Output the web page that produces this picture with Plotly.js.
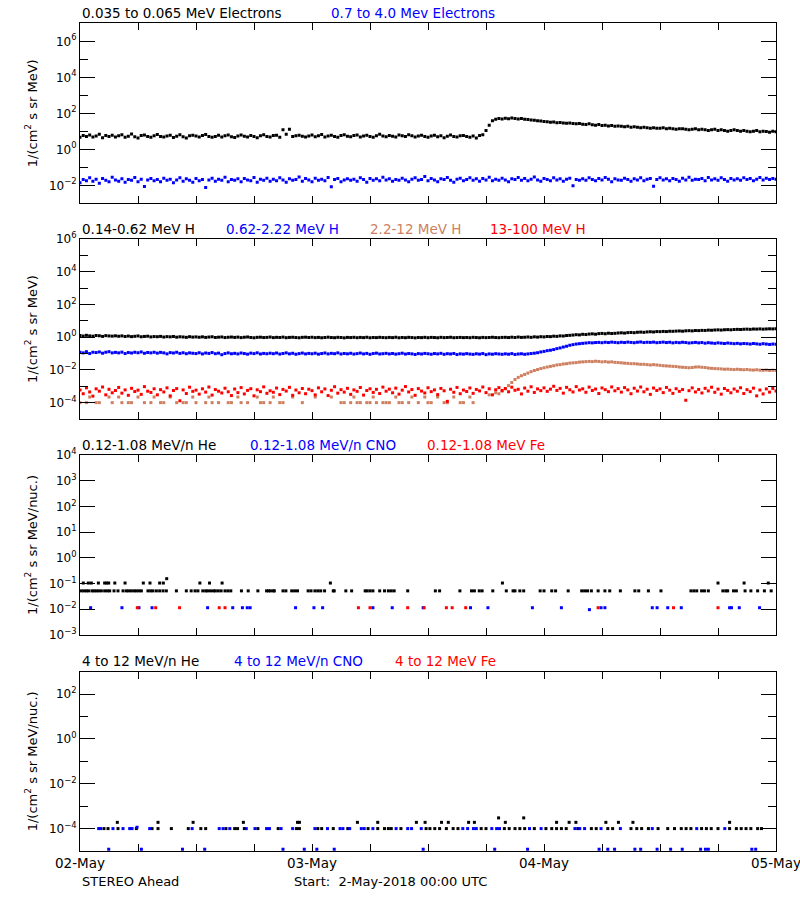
<!DOCTYPE html>
<html><head><meta charset="utf-8">
<script src="https://cdn.plot.ly/plotly-3.0.1.min.js"></script>
<style>html,body{margin:0;padding:0;background:#fff}#chart{width:800px;height:900px}</style>
</head><body><div id="chart"></div>
<script>
// ---------------- data ----------------
// 20-minute averages starting 2-May-2018 00:00 UTC, x in hours since start
const STEP_HOURS = 1/3;
const dayTickHours = [0, 24, 48, 72];
const dayTickLabels = ['02-May', '03-May', '04-May', '05-May'];
const sixHourTickHours = [6, 12, 18, 30, 36, 42, 54, 60, 66];

// Panel 1: electrons
const e035_065 = [
4.6,5.8,5.1,6.3,4.9,5.5,6.8,4.4,5.9,5.2,6.1,4.8,
5.6,6.4,4.7,5.3,7.0,5.0,4.3,5.8,6.2,5.1,4.6,5.7,
6.6,5.2,4.9,5.5,6.0,4.5,5.3,6.5,5.0,4.2,5.6,6.1,
5.4,4.8,5.9,6.7,5.1,4.6,5.2,6.0,4.9,5.7,6.3,5.0,
4.5,5.5,6.2,5.3,4.8,5.9,5.1,4.4,5.6,6.4,5.2,4.9,
5.8,6.1,4.7,12,6.9,13,5.2,5.6,6.0,5.3,4.9,5.5,
6.2,5.0,5.7,6.6,4.8,5.4,6.0,5.1,4.6,5.9,6.5,5.3,
5.0,5.8,6.3,4.9,5.5,6.1,5.2,4.7,5.6,6.8,5.4,5.0,
5.9,5.3,4.8,6.2,5.6,5.1,6.4,5.7,4.9,5.5,6.0,5.2,
4.6,5.4,6.1,5.0,5.7,4.4,5.3,6.3,5.1,4.8,5.6,5.9,
5.2,4.7,5.5,4.3,5.8,6.4,11,22,38,46,51,49,
53,50,55,52,49,51,47,45,43,41,38,37,
35,34,32,33,30,31,29,28,29,27,26,27,
25,24,26,23,22,24,21,22,20,21,19,20,
19,18,19,17,18,17,16,17,16,15,16,15,
15,16,14,15,14,13,14,14,13,12,13,14,
12,13,12,11,12,13,11,12,11,10,11,12,
11,10,11,10,9.5,10,11,9.3,10,9.6,8.8,10,
9.5];
const e07_40 = [
0.014,0.021,0.018,0.026,0.017,0.022,0.013,0.024,0.019,0.016,0.028,0.02,
0.017,0.023,0.015,0.021,0.019,0.027,0.016,0.022,0.0085,0.02,0.024,0.018,
0.021,0.016,0.025,0.019,0.022,0.014,0.02,0.026,0.017,0.023,0.019,0.015,
0.024,0.018,0.021,0.0075,0.02,0.025,0.017,0.022,0.019,0.028,0.016,0.021,
0.019,0.023,0.016,0.024,0.02,0.018,0.027,0.015,0.022,0.019,0.025,0.017,
0.022,0.018,0.026,0.02,0.015,0.023,0.019,0.021,0.029,0.017,0.024,0.02,
0.016,0.025,0.019,0.022,0.018,0.027,0.0082,0.021,0.024,0.016,0.02,0.023,
0.019,0.022,0.017,0.026,0.021,0.015,0.024,0.019,0.023,0.018,0.028,0.02,
0.023,0.017,0.021,0.019,0.025,0.02,0.016,0.022,0.026,0.019,0.021,0.031,
0.018,0.024,0.02,0.016,0.023,0.021,0.027,0.019,0.015,0.022,0.025,0.018,
0.021,0.026,0.019,0.023,0.017,0.024,0.02,0.028,0.018,0.022,0.019,0.025,
0.02,0.016,0.023,0.021,0.027,0.019,0.024,0.018,0.022,0.029,0.02,0.017,
0.024,0.021,0.018,0.026,0.02,0.023,0.017,0.022,0.025,0.0095,0.021,0.019,
0.023,0.019,0.026,0.021,0.018,0.024,0.02,0.027,0.022,0.016,0.023,0.02,
0.019,0.025,0.021,0.017,0.023,0.02,0.026,0.018,0.022,0.024,0.0088,0.021,
0.026,0.02,0.023,0.018,0.024,0.021,0.017,0.025,0.02,0.028,0.019,0.022,
0.021,0.024,0.018,0.027,0.02,0.023,0.019,0.026,0.021,0.017,0.024,0.02,
0.023,0.019,0.026,0.021,0.024,0.018,0.022,0.027,0.02,0.025,0.021,0.024,
0.022];

// Panel 2: protons
const h014_062 = [
1.25,1.18,1.3,1.2,1.15,1.27,1.22,1.12,1.24,1.19,1.16,1.21,
1.14,1.2,1.1,1.17,1.08,1.13,1.19,1.06,1.11,1.15,1.04,1.09,
1.07,1.12,1.02,1.08,1.05,1.1,1.0,1.06,1.03,0.98,1.07,1.01,
1.04,0.99,1.05,0.97,1.02,1.06,0.96,1.0,1.03,0.95,0.99,1.02,
0.97,1.01,0.94,0.99,1.03,0.96,0.92,0.98,1.0,0.95,0.97,1.02,
0.94,0.98,0.96,1.01,0.93,0.97,0.99,0.95,0.92,0.98,1.0,0.96,
0.99,0.94,0.97,0.92,0.96,1.0,0.95,0.93,0.98,0.96,0.91,0.97,
0.95,0.98,0.93,0.97,0.94,0.99,0.92,0.96,0.94,0.98,0.95,0.93,
0.97,0.94,0.99,0.92,0.96,0.93,0.98,0.95,0.91,0.96,0.94,0.98,
0.93,0.97,0.95,0.92,0.98,0.94,0.96,0.99,0.93,0.95,0.97,0.94,
0.96,0.93,0.98,0.95,0.92,0.97,0.94,0.96,0.99,0.95,0.93,0.97,
0.98,0.95,1.0,0.96,1.02,0.97,0.99,1.03,0.98,1.05,1.01,1.07,
1.04,1.1,1.08,1.15,1.12,1.2,1.18,1.26,1.3,1.35,1.42,1.38,
1.5,1.45,1.55,1.6,1.52,1.65,1.7,1.62,1.75,1.68,1.72,1.8,
1.85,1.78,1.9,1.95,1.88,2.0,2.05,1.98,2.1,2.15,2.08,2.2,
2.18,2.25,2.2,2.3,2.28,2.35,2.4,2.32,2.45,2.5,2.42,2.55,
2.52,2.6,2.58,2.7,2.65,2.75,2.8,2.72,2.85,2.9,2.82,2.95,
3.0,2.95,3.05,3.1,3.02,3.15,3.12,3.2,3.1,3.18,3.25,3.2,
3.22];
const h062_222 = [
0.12,0.11,0.13,0.1,0.12,0.115,0.125,0.105,0.12,0.13,0.11,0.118,
0.11,0.122,0.1,0.115,0.108,0.12,0.112,0.125,0.104,0.116,0.11,0.12,
0.106,0.118,0.11,0.096,0.114,0.108,0.12,0.102,0.112,0.098,0.11,0.104,
0.1,0.112,0.095,0.108,0.102,0.115,0.098,0.106,0.085,0.1,0.11,0.097,
0.103,0.095,0.108,0.1,0.092,0.106,0.099,0.111,0.094,0.102,0.097,0.105,
0.098,0.108,0.093,0.101,0.11,0.096,0.104,0.091,0.099,0.107,0.095,0.102,
0.097,0.105,0.092,0.1,0.108,0.095,0.103,0.098,0.11,0.094,0.101,0.096,
0.104,0.093,0.099,0.107,0.095,0.102,0.09,0.1,0.106,0.094,0.098,0.103,
0.095,0.101,0.092,0.098,0.105,0.093,0.1,0.096,0.088,0.099,0.094,0.102,
0.097,0.091,0.1,0.095,0.103,0.09,0.098,0.094,0.101,0.087,0.096,0.092,
0.099,0.093,0.089,0.097,0.092,0.1,0.086,0.095,0.091,0.098,0.094,0.09,
0.096,0.091,0.099,0.088,0.094,0.097,0.09,0.095,0.1,0.105,0.112,0.125,
0.135,0.15,0.16,0.175,0.2,0.22,0.25,0.28,0.32,0.35,0.38,0.4,
0.42,0.44,0.46,0.45,0.47,0.48,0.46,0.49,0.47,0.5,0.48,0.46,
0.49,0.47,0.5,0.48,0.46,0.49,0.51,0.47,0.49,0.48,0.5,0.46,
0.48,0.5,0.47,0.49,0.45,0.48,0.46,0.49,0.47,0.44,0.46,0.48,
0.45,0.47,0.43,0.46,0.44,0.42,0.45,0.43,0.41,0.44,0.42,0.4,
0.42,0.39,0.41,0.4,0.38,0.41,0.39,0.37,0.4,0.38,0.36,0.38,
0.37];
const h22_12 = [
1e-4,null,1e-4,2.2e-4,null,1e-4,1e-4,null,null,2.2e-4,1e-4,null,
2.2e-4,1e-4,null,1e-4,1e-4,null,2.2e-4,null,1e-4,null,1e-4,2.2e-4,
null,1e-4,1e-4,null,2.2e-4,null,1e-4,null,1e-4,1e-4,null,2.2e-4,
1e-4,null,null,1e-4,2.2e-4,1e-4,null,1e-4,null,null,1e-4,1e-4,
null,2.2e-4,1e-4,null,1e-4,null,null,2.2e-4,1e-4,1e-4,null,1e-4,
2.2e-4,null,1e-4,1e-4,null,null,2.2e-4,null,null,1e-4,null,null,
null,2.2e-4,null,null,null,null,2.2e-4,null,null,1e-4,1e-4,null,
1e-4,2.2e-4,1e-4,1e-4,null,1e-4,1e-4,2.2e-4,1e-4,null,1e-4,1e-4,
1e-4,null,2.2e-4,1e-4,1e-4,null,1e-4,2.2e-4,null,1e-4,null,2.2e-4,
1e-4,1e-4,null,2.2e-4,null,1e-4,1e-4,null,2.2e-4,null,1e-4,1e-4,
null,2.2e-4,1e-4,null,null,null,null,3e-4,null,4e-4,3.5e-4,5e-4,
7e-4,1.1e-3,1.7e-3,2.6e-3,3.5e-3,4.4e-3,5.3e-3,6.4e-3,7.8e-3,9.2e-3,0.0105,0.012,
0.0135,0.015,0.0165,0.018,0.02,0.021,0.023,0.024,0.026,0.027,0.028,0.03,
0.031,0.032,0.033,0.032,0.034,0.033,0.031,0.032,0.03,0.031,0.029,0.028,
0.027,0.026,0.025,0.024,0.024,0.023,0.022,0.022,0.021,0.02,0.021,0.02,
0.019,0.018,0.0175,0.017,0.0165,0.016,0.015,0.0145,0.014,0.0135,0.014,0.015,
0.0152,0.0145,0.014,0.013,0.0125,0.012,0.0118,0.0115,0.011,0.0112,0.0108,0.0105,
0.011,0.0105,0.0102,0.0106,0.01,0.0098,0.0102,0.0097,0.0095,0.0098,0.0093,0.0096,
0.0093];
const h13_100 = [
6e-4,3.5e-4,8e-4,4.5e-4,2.5e-4,7e-4,5e-4,9e-4,3e-4,6.5e-4,4e-4,5.5e-4,
8.5e-4,3.8e-4,6e-4,2.8e-4,7.5e-4,4.8e-4,5.8e-4,3.2e-4,9.5e-4,5e-4,4.2e-4,7e-4,
3e-4,6.2e-4,4.5e-4,8e-4,2.6e-4,5.5e-4,7.2e-4,1.3e-4,6e-4,3.6e-4,8.8e-4,4.9e-4,
5.8e-4,3.3e-4,7e-4,4.4e-4,9e-4,2.9e-4,6.3e-4,5e-4,3.9e-4,7.6e-4,4.6e-4,2.7e-4,
6.8e-4,4.1e-4,8.3e-4,3.4e-4,5.6e-4,7.1e-4,2.6e-4,6.1e-4,4.7e-4,9.2e-4,3.7e-4,5.3e-4,
4.3e-4,7.8e-4,3.1e-4,6.4e-4,5.1e-4,8.6e-4,2.8e-4,5.9e-4,4e-4,7.3e-4,3.5e-4,6.6e-4,
5.4e-4,3e-4,8e-4,4.6e-4,6.9e-4,2.7e-4,5.7e-4,9.4e-4,3.8e-4,6.2e-4,4.4e-4,7.5e-4,
3.2e-4,6e-4,4.9e-4,8.4e-4,2.9e-4,5.5e-4,7e-4,4.2e-4,6.5e-4,3.6e-4,8.9e-4,5e-4,
6.7e-4,4e-4,7.7e-4,3.3e-4,5.8e-4,9.6e-4,4.5e-4,6.3e-4,2.8e-4,7.2e-4,5.1e-4,3.9e-4,
8.1e-4,4.7e-4,6e-4,3.1e-4,7.4e-4,5.3e-4,1.2e-4,6.6e-4,4.3e-4,8.5e-4,3.5e-4,5.9e-4,
4.8e-4,7.9e-4,3.7e-4,6.4e-4,5.2e-4,9e-4,4.1e-4,7e-4,3e-4,6.1e-4,8.2e-4,5.5e-4,
7.3e-4,4.6e-4,8.8e-4,5.7e-4,6.5e-4,3.4e-4,7.8e-4,5e-4,9.3e-4,4.2e-4,6.9e-4,5.4e-4,
8e-4,4.9e-4,6.7e-4,1e-3,5.6e-4,7.4e-4,3.8e-4,8.6e-4,6.1e-4,4.5e-4,9.5e-4,5.9e-4,
7e-4,4.3e-4,8.9e-4,5.5e-4,6.8e-4,3.6e-4,7.9e-4,6.2e-4,4.7e-4,9.1e-4,5.3e-4,7.2e-4,
4.4e-4,8.3e-4,6e-4,3.5e-4,7.6e-4,5.1e-4,9e-4,4.6e-4,6.6e-4,3.2e-4,7.8e-4,5.5e-4,
6.9e-4,4.1e-4,8.5e-4,5.8e-4,3.7e-4,7.1e-4,4.9e-4,6.3e-4,1.4e-4,5.4e-4,8e-4,4.5e-4,
6.4e-4,3.9e-4,7.5e-4,5.2e-4,8.7e-4,4.3e-4,6.7e-4,3.3e-4,7.3e-4,5.6e-4,4e-4,6.8e-4,
5e-4,8.1e-4,3.6e-4,6.2e-4,4.7e-4,7.7e-4,2.6e-4,5.9e-4,3.4e-4,6.9e-4,4.4e-4,7.4e-4,
5.2e-4];

// Panel 3: 0.12-1.08 MeV/n heavy ions (sparse, count-quantized levels)
const he012Levels = [0.052, 0.105, 0.155];
const he012Hours052 = [0.14,0.41,0.66,0.90,1.24,1.45,1.69,1.93,2.21,2.55,2.83,3.07,3.52,3.93,4.45,4.79,5.03,5.31,5.59,5.83,6.10,6.35,7.03,7.31,7.55,7.90,8.24,8.59,8.93,9.97,11.0,11.5,11.9,12.2,12.7,13.0,13.2,13.5,13.8,14.0,14.3,14.6,15.0,15.3,15.6,16.7,17.4,18.4,19.3,19.5,19.7,20.0,20.1,21.0,21.3,21.9,22.2,22.5,23.6,23.9,24.3,24.6,24.9,25.3,26.2,26.3,27.5,28.1,29.5,29.7,30.0,30.3,31.0,31.5,31.9,32.2,32.5,33.9,36.76,37.2,39.3,40.5,40.8,41.3,41.6,42.7,44.1,44.8,45.0,45.5,45.9,47.6,48.0,48.8,49.2,50.5,51.9,52.2,52.5,52.9,53.6,54.3,54.8,55.9,57.4,57.8,58.8,60.1,63.2,63.5,63.8,64.3,64.6,65.0,66.5,66.8,67.0,67.6,67.9,68.8,69.4,70.1,70.8,71.5];
const he012Hours105 = [0.34,0.86,1.17,1.9,2.55,2.76,2.97,3.6,4.66,6.55,7.24,8.24,8.62,12.4,13.4,14.7,25.9,43.7,66.0,68.7,71.2];
const he012Hours155 = [8.97];
const cno012Levels = [0.0115, 0.0097];
const cno012Hours0115 = [1.10,4.34,6.10,7.45,13.2,15.8,16.8,17.3,17.6,22.3,24.2,25.1,30.3,32.3,35.5,40.4,42.2,46.8,49.8,53.9,54.3,59.2,59.7,60.8,62.2,67.2,67.4,68.2,70.3];
const cno012Hours0097 = [52.7];
const fe012Levels = [0.0115];
const fe012Hours0115 = [5.93,7.83,10.3,14.4,15.0,28.8,30.0,33.9,35.6,37.9,38.5,39.9,53.6,61.4,66.0];

// Panel 4: 4-12 MeV/n heavy ions
const he4Levels = [1e-4, 1.9e-4, 3e-4];
const he4Hours1e4 = [2.48,2.90,3.93,5.83,7.45,8.07,9.45,11.2,12.5,13.0,15.1,16.0,16.3,17.0,18.4,20.5,22.4,22.7,24.6,25.0,26.2,27.7,29.8,30.8,31.5,31.9,32.2,33.2,35.8,36.2,36.7,37.2,37.9,38.6,39.1,41.5,42.0,43.9,44.4,45.0,45.5,46.0,47.0,48.2,48.8,49.3,49.8,50.3,51.5,52.9,53.4,54.6,55.1,57.0,57.6,58.1,58.8,59.8,60.8,61.5,62.2,62.7,63.2,64.3,64.8,65.3,66.0,67.2,67.9,68.4,68.9,69.4,70.1,70.5];
const he4Hours19e5 = [3.86,8.07,11.7,16.9,22.5,22.7,28.7,30.8,34.8,35.7,37.4,38.1,40.2,40.8,44.0,49.3,50.6,51.3,54.4,55.7,57.2,67.2];
const he4Hours3e4 = [43.3,45.9];
const cno4Levels = [1e-4, 1.15e-4, 1.2e-5];
const cno4Hours1e4 = [1.93,2.14,3.41,4.45,5.14,5.38,7.21,11.6,14.4,14.8,15.5,17.2,18.1,19.3,19.6,20.8,22.0,24.3,25.6,26.9,27.2,27.9,29.1,29.4,30.3,32.7,33.9,34.3,35.3,39.6,40.1,40.7,41.0,42.6,43.1,43.4,46.5,47.7,51.2,51.7,52.2,53.9,55.9,59.2,63.8,66.7];
const cno4Hours115e6 = [5.9];
const cno4Hours12e6 = [2.97,6.35,10.6,12.9,21.0,23.2,24.5,26.3,35.5,42.9,46.3,53.7,54.6,55.3,57.4,58.0,59.7,61.1,62.3,64.2,64.7,65.0,69.5,69.9];

// ---------------- drawing ----------------
const FONT = 'DejaVu Sans';
const BLACK = '#000000', BLUE = '#0000ff', BROWN = 'rgb(205,127,95)', RED = '#ff0000';
const W = 800, H = 900, ML = 80, MR = 24, PW = W - ML - MR;
const px2x = px => (px - ML) / PW;
const px2y = py => 1 - py / H;
const hoursFor = arr => arr.map((_, i) => i * STEP_HOURS);

function dots(x, y, color, n) {
  const s = n === 1 ? '' : String(n);
  return {x: x, y: y, type: 'scatter', mode: 'markers', xaxis: 'x' + s, yaxis: 'y' + s,
    marker: {symbol: 'square', size: 3, color: color, line: {width: 0}}, hoverinfo: 'skip'};
}
function levelDots(hours, level, color, n) { return dots(hours, hours.map(() => level), color, n); }

const traces = [
  dots(hoursFor(e035_065), e035_065, BLACK, 1),
  dots(hoursFor(e07_40), e07_40, BLUE, 1),
  dots(hoursFor(h22_12), h22_12, BROWN, 2),
  dots(hoursFor(h13_100), h13_100, RED, 2),
  dots(hoursFor(h062_222), h062_222, BLUE, 2),
  dots(hoursFor(h014_062), h014_062, BLACK, 2),
  levelDots(he012Hours052, he012Levels[0], BLACK, 3),
  levelDots(he012Hours105, he012Levels[1], BLACK, 3),
  levelDots(he012Hours155, he012Levels[2], BLACK, 3),
  levelDots(cno012Hours0115, cno012Levels[0], BLUE, 3),
  levelDots(cno012Hours0097, cno012Levels[1], BLUE, 3),
  levelDots(fe012Hours0115, fe012Levels[0], RED, 3),
  levelDots(he4Hours1e4, he4Levels[0], BLACK, 4),
  levelDots(he4Hours19e5, he4Levels[1], BLACK, 4),
  levelDots(he4Hours3e4, he4Levels[2], BLACK, 4),
  levelDots(cno4Hours1e4, cno4Levels[0], BLUE, 4),
  levelDots(cno4Hours115e6, cno4Levels[1], BLUE, 4),
  levelDots(cno4Hours12e6, cno4Levels[2], BLUE, 4)
];

const panels = [
  {top: 23.3, bottom: 203.3, range: [-3, 7],
   major: [1e-2, 1, 1e2, 1e4, 1e6], labels: ['10<sup>−2</sup>','10<sup>0</sup>','10<sup>2</sup>','10<sup>4</sup>','10<sup>6</sup>'],
   minor: [1e-1, 10, 1e3, 1e5], title: '1/(cm<sup>2</sup> s sr MeV)'},
  {top: 239, bottom: 419, range: [-5, 6],
   major: [1e-4, 1e-2, 1, 1e2, 1e4, 1e6], labels: ['10<sup>−4</sup>','10<sup>−2</sup>','10<sup>0</sup>','10<sup>2</sup>','10<sup>4</sup>','10<sup>6</sup>'],
   minor: [1e-3, 1e-1, 10, 1e3, 1e5], title: '1/(cm<sup>2</sup> s sr MeV)'},
  {top: 455, bottom: 635, range: [-3, 4],
   major: [1e-3, 1e-2, 1e-1, 1, 10, 1e2, 1e3, 1e4], labels: ['10<sup>−3</sup>','10<sup>−2</sup>','10<sup>−1</sup>','10<sup>0</sup>','10<sup>1</sup>','10<sup>2</sup>','10<sup>3</sup>','10<sup>4</sup>'],
   minor: null, title: '1/(cm<sup>2</sup> s sr MeV/nuc.)'},
  {top: 671.7, bottom: 851, range: [-5, 3],
   major: [1e-4, 1e-2, 1, 1e2], labels: ['10<sup>−4</sup>','10<sup>−2</sup>','10<sup>0</sup>','10<sup>2</sup>'],
   minor: [1e-3, 1e-1, 10], title: '1/(cm<sup>2</sup> s sr MeV/nuc.)'}
];

const layout = {
  width: W, height: H, margin: {l: ML, r: MR, t: 0, b: 0, pad: 0},
  paper_bgcolor: '#fff', plot_bgcolor: '#fff', showlegend: false, hovermode: false,
  font: {family: FONT, size: 13, color: BLACK},
  annotations: []
};

panels.forEach((p, i) => {
  const n = i + 1, s = n === 1 ? '' : String(n);
  const last = n === 4;
  layout['xaxis' + s] = {
    domain: [0, 1], anchor: 'y' + s, range: [0, 72], type: 'linear',
    tickmode: 'array', tickvals: dayTickHours, ticktext: dayTickLabels,
    showticklabels: last, ticklabeloverflow: 'allow',
    ticks: 'inside', ticklen: 7, tickwidth: 1, tickcolor: BLACK,
    minor: {tickmode: 'array', tickvals: sixHourTickHours, ticks: 'inside', ticklen: 7, tickwidth: 1, tickcolor: BLACK, showgrid: false},
    showline: true, linecolor: BLACK, linewidth: 1, mirror: 'ticks',
    showgrid: false, zeroline: false, fixedrange: true, automargin: false,
    tickfont: {family: FONT, size: 13.5, color: BLACK}
  };
  if (n > 1) layout['xaxis' + s].matches = 'x';
  const ya = {
    domain: [px2y(p.bottom), px2y(p.top)], anchor: 'x' + s, type: 'log', range: p.range,
    tickmode: 'array', tickvals: p.major, ticktext: p.labels,
    ticks: 'inside', ticklen: 15, tickwidth: 1, tickcolor: BLACK,
    showline: true, linecolor: BLACK, linewidth: 1, mirror: 'ticks',
    showgrid: false, zeroline: false, fixedrange: true, automargin: false,
    tickfont: {family: FONT, size: 12, color: BLACK},
    title: {text: p.title, font: {family: FONT, size: 13, color: BLACK}, standoff: 8}
  };
  if (p.minor) ya.minor = {tickmode: 'array', tickvals: p.minor, ticks: 'inside', ticklen: 8, tickwidth: 1, tickcolor: BLACK, showgrid: false};
  layout['yaxis' + s] = ya;
});

const panelTitles = [
  {y: 13, items: [['0.035 to 0.065 MeV Electrons', 80, BLACK], ['0.7 to 4.0 Mev Electrons', 329, BLUE]]},
  {y: 229, items: [['0.14-0.62 MeV H', 80, BLACK], ['0.62-2.22 MeV H', 224, BLUE], ['2.2-12 MeV H', 368, BROWN], ['13-100 MeV H', 488, RED]]},
  {y: 445, items: [['0.12-1.08 MeV/n He', 80, BLACK], ['0.12-1.08 MeV/n CNO', 248, BLUE], ['0.12-1.08 MeV Fe', 425, RED]]},
  {y: 661, items: [['4 to 12 MeV/n He', 80, BLACK], ['4 to 12 MeV/n CNO', 232, BLUE], ['4 to 12 MeV Fe', 393, RED]]}
];
panelTitles.forEach(row => row.items.forEach(([t, px, c]) => {
  layout.annotations.push({text: t, xref: 'paper', yref: 'paper', x: px2x(px), y: px2y(row.y),
    xanchor: 'left', yanchor: 'middle', showarrow: false, font: {family: FONT, size: 13.5, color: c}});
}));
layout.annotations.push({text: 'STEREO Ahead', xref: 'paper', yref: 'paper', x: px2x(80), y: px2y(881),
  xanchor: 'left', yanchor: 'middle', showarrow: false, font: {family: FONT, size: 13, color: BLACK}});
layout.annotations.push({text: 'Start:\u00a0 2-May-2018 00:00 UTC', xref: 'paper', yref: 'paper', x: px2x(292), y: px2y(881),
  xanchor: 'left', yanchor: 'middle', showarrow: false, font: {family: FONT, size: 13, color: BLACK}});

Plotly.newPlot('chart', traces, layout, {displayModeBar: false, staticPlot: true});
</script></body></html>
